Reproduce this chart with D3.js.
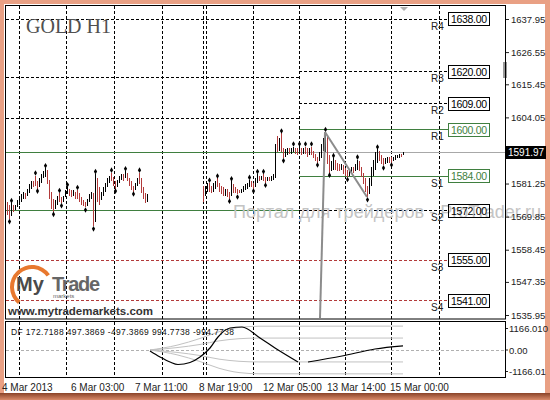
<!DOCTYPE html>
<html>
<head>
<meta charset="utf-8">
<script src="https://cdn.jsdelivr.net/npm/d3@7"></script>
<style>
  body { margin: 0; background: #fff; }
</style>
</head>
<body>
<div id="chart"></div>
<script>
const svgWidth = 550, svgHeight = 400;

// H1 bars: [high, low, direction]  u = up (black), d = down (red)
const firstBarsStart = 0;
const firstBars = [
  [1575,1570.5,'d'],[1574,1569,'d'],[1574.5,1570,'u'],[1574,1571.5,'d'],[1574,1572,'u'],
  [1575.5,1573,'u'],[1577,1574,'u'],[1577.5,1575,'u'],[1578.5,1576,'u'],[1578,1576,'d'],
  [1579.5,1577,'u'],[1581,1578,'u'],[1582,1579.5,'u'],[1582,1580,'d'],[1584,1580.5,'d'],
  [1582,1579.5,'d'],[1583,1580,'u'],[1584.5,1581.5,'u'],[1585.5,1583,'u'],[1586.5,1583.5,'u'],
  [1586,1581,'d'],[1582.5,1576,'d'],[1578.5,1572.5,'d'],[1576,1571.5,'d'],[1575.5,1572.5,'u'],
  [1577,1574,'u'],[1578,1575,'d'],[1576.5,1574.5,'d'],[1577,1575,'u'],[1579,1576.5,'u'],
  [1580,1577.5,'u'],[1579.5,1577,'d'],[1579,1576.5,'d'],[1579,1577,'u'],[1578.5,1576,'d'],
  [1579,1576,'d'],[1578,1575,'d'],[1576.5,1574,'d'],[1575.5,1573.5,'d'],[1575,1573,'d'],
  [1576,1573.5,'u'],[1577.5,1575,'u'],[1578.5,1576,'u'],[1578,1566.5,'d'],[1584.5,1568,'u'],
  [1583,1575,'d'],[1580,1574,'d'],[1578.5,1575.5,'u'],[1580,1577,'u'],[1581.5,1578.5,'u'],
  [1583,1580,'u'],[1584,1581.5,'u'],[1585,1582,'d'],[1583.5,1580.5,'d'],[1582,1579.5,'d'],
  [1582.5,1580,'u'],[1584,1581.5,'u'],[1584.5,1582.5,'u'],[1584.5,1582,'d'],[1585.5,1583,'u'],
  [1585,1582,'d'],[1583,1580.5,'d'],[1582,1579,'d'],[1580.5,1578.5,'d'],[1581.5,1579,'u'],
  [1583,1580.5,'u'],[1585,1581,'d'],[1583,1578,'d'],[1580,1576,'d'],[1578,1574.5,'d'],
  [1577.5,1575,'u']
];
const secondBarsStart = 98;
const secondBars = [
  [1580.5,1575,'d'],[1580.5,1577,'u'],[1581.5,1578.5,'u'],[1581.5,1578.5,'d'],[1580.5,1578,'d'],
  [1581.5,1578.5,'u'],[1582,1579.5,'u'],[1583,1580,'d'],[1581.5,1578.5,'d'],[1580.5,1577.5,'d'],
  [1580,1577,'d'],[1579.5,1577,'u'],[1579.5,1576.5,'d'],[1578.5,1576,'d'],[1582,1577,'u'],
  [1581,1578,'d'],[1580,1578,'d'],[1579.5,1577.5,'d'],[1579,1578,'d'],[1579.5,1578,'u'],
  [1580.5,1578.5,'u'],[1581,1579,'u'],[1581.5,1579.5,'u'],[1582.5,1580,'u'],[1582,1580,'d'],
  [1581.5,1579.5,'d'],[1583,1580,'u'],[1584.5,1581.5,'u'],[1584,1582,'d'],[1584,1582.5,'u'],
  [1584.5,1582,'d'],[1583.5,1581.5,'d'],[1583.5,1582,'u'],[1583.5,1582,'d'],[1584,1582,'u'],
  [1584.5,1582.5,'u'],[1595,1583,'u'],[1597.5,1592,'d'],[1597,1592.5,'u'],[1598.5,1592,'d'],
  [1593.5,1590,'d'],[1593,1590.5,'u'],[1593.5,1591,'u'],[1593.5,1591.5,'d'],[1593.5,1591.5,'u'],
  [1594,1592,'u'],[1593.5,1591.5,'d'],[1593.5,1591,'d'],[1594,1591.5,'u'],[1593.5,1591,'d'],
  [1593.5,1591.5,'u'],[1594,1591.5,'d'],[1593.5,1590.5,'d'],[1593.5,1591,'u'],[1594,1591,'d'],
  [1592.5,1590,'d'],[1591.5,1589,'d'],[1590.5,1588.5,'d'],[1592,1589,'u'],[1595,1590,'u'],
  [1597,1592.5,'u'],[1599,1592,'u'],[1598,1588,'d'],[1591,1585,'d'],[1589,1585.5,'u'],
  [1590,1586,'u'],[1589.5,1586,'d'],[1588.5,1585.5,'d'],[1588,1585.5,'d'],[1588,1586,'u'],
  [1587.5,1584.5,'d'],[1586.5,1584,'d'],[1586,1583.5,'d'],[1586,1584,'u'],[1587,1584.5,'u'],
  [1587,1585,'d'],[1588,1585.5,'u'],[1589.5,1586,'u'],[1589,1585.5,'d'],[1587,1583.5,'d'],
  [1585,1581,'d'],[1583,1578.5,'d'],[1580.5,1576.5,'d'],[1583,1577.5,'u'],[1587,1580.5,'u'],
  [1589.5,1584,'u'],[1592,1586,'u'],[1593,1588.5,'u'],[1592.5,1589,'d'],[1591,1588,'d'],
  [1590,1587.5,'d'],[1590,1588,'u'],[1590.5,1588.5,'u'],[1590.5,1588.5,'d'],[1590.5,1588.5,'d'],
  [1590.5,1589,'u'],[1591,1589.5,'u'],[1591,1590,'u'],[1591.5,1590,'u'],[1591.5,1590.5,'d'],
  [1592,1591,'u']
];

// fractal bars (bar numbers)
const fractalsUp = [2, 14, 19, 26, 30, 35, 44, 52, 59, 66,
  101, 105, 112, 121, 125, 128, 137, 143, 146, 149, 152, 159, 163, 175, 185];
const fractalsDown = [1, 15, 23, 27, 39, 43, 54, 63,
  111, 115, 123, 129, 138, 155, 161, 170, 180, 188, 192];

const priceTicks = [1637.95, 1626.55, 1615.45, 1604.05, 1592.65, 1581.25, 1569.85, 1558.45, 1547.35, 1535.95];
const lastPrice = 1591.97;

// pivot levels of this week (labelled) and the previous one
const pivotNames = ['R4', 'R3', 'R2', 'R1', 'S1', 'S2', 'S3', 'S4'];
const pivotValues = [1638, 1620, 1609, 1600, 1584, 1572, 1555, 1541];
const pivotKinds = ['dash', 'dash', 'dash', 'green', 'green', 'dash', 'red', 'red'];
const prevPivotValues = [1638, 1618, 1604, 1592, 1572, 1555, 1541];
const prevPivotKinds = ['dash', 'dash', 'dash', 'green', 'green', 'red', 'red'];
const pivotSwitchBar = 146;

const dayGridBars = [6, 29.5, 53.5, 77.5, 98, 99.5, 123, 146, 169, 192, 216];
const dateLabels = ['4 Mar 2013', '6 Mar 03:00', '7 Mar 11:00', '8 Mar 19:00', '12 Mar 05:00', '13 Mar 14:00', '15 Mar 00:00'];
const dateLabelBars = [-2.5, 32, 64, 96, 128, 160, 191.5];

const trendLines = [
  [[159, 1599], [180, 1576.6]],
  [[159, 1599], [156.5, 1534.9]]
];

// DF indicator
const dfValues = ['172.7188', '497.3869', '-497.3869', '994.7738', '-994.7738'];
const dfMax = 1166.01;
const dfMainA = [[71.5,-42],[76.5,-291],[81.5,-500],[85.5,-604],[91.5,-520],[96.5,-291],[101.5,83],
  [105.5,541],[111.5,916],[117.5,958],[126.5,500],[134,83],[145.5,-500]];
const dfMainB = [[150.5,-500],[167.5,-250],[184,42],[198,173]];
const dfUpperOuter = [[71.5,0],[85,200],[96.5,480],[106,760],[116,940],[126,990],[198,994.77]];
const dfUpperInner = [[71.5,0],[85,100],[96.5,230],[106,380],[116,470],[126,497],[198,497.39]];
const dfLowerInner = [[71.5,0],[85,-100],[96.5,-230],[106,-380],[116,-470],[126,-497],[198,-497.39]];
const dfLowerOuter = [[71.5,0],[85,-200],[96.5,-480],[106,-760],[116,-940],[126,-990],[198,-994.77]];

const chart = { left: 6, right: 505.5, top: 6, bottom: 319 };
const panel = { top: 322, bottom: 378 };

const svg = d3.select('#chart')
  .append('svg')
  .attr('width', svgWidth)
  .attr('height', svgHeight)
  .attr('font-family', '"Liberation Sans", Arial, sans-serif');

const x = d3.scaleLinear().domain([0, 249]).range([7, 505]);
const y = d3.scaleLinear().domain([1535.95, 1637.95]).range([315, 19]);
const yDf = d3.scaleLinear().domain([-dfMax, dfMax]).range([panel.bottom, panel.top]);

const green = '#3f7f3f', red = '#b23a3a';

// frame
const defs = svg.append('defs');
const grad = defs.append('linearGradient').attr('id', 'bottomShade').attr('x1', 0).attr('y1', 0).attr('x2', 0).attr('y2', 1);
grad.append('stop').attr('offset', '0%').attr('stop-color', '#8a4328');
grad.append('stop').attr('offset', '100%').attr('stop-color', '#d98a6a');
defs.append('clipPath').attr('id', 'plotClip')
  .append('rect')
  .attr('x', chart.left).attr('y', chart.top)
  .attr('width', chart.right - chart.left).attr('height', chart.bottom - chart.top);

svg.append('rect').attr('width', svgWidth).attr('height', svgHeight).attr('fill', '#e9a084');
svg.append('rect').attr('x', 0).attr('y', 393).attr('width', svgWidth).attr('height', 7).attr('fill', 'url(#bottomShade)');
svg.append('rect').attr('x', 4).attr('y', 4).attr('width', 541).attr('height', 389).attr('fill', '#fff');

// day separators
const grid = svg.append('g')
  .attr('stroke', '#000')
  .attr('stroke-dasharray', '3,2')
  .attr('shape-rendering', 'crispEdges');
dayGridBars.forEach(b => {
  const gx = Math.round(x(b)) + 0.5;
  grid.append('line').attr('x1', gx).attr('x2', gx).attr('y1', chart.top).attr('y2', chart.bottom);
  grid.append('line').attr('x1', gx).attr('x2', gx).attr('y1', panel.top).attr('y2', panel.bottom);
});

// pivot lines
function pivotStyle(sel, kind) {
  if (kind === 'green') sel.attr('stroke', green);
  else if (kind === 'red') sel.attr('stroke', red).attr('stroke-dasharray', '3,2');
  else sel.attr('stroke', '#000').attr('stroke-dasharray', '3,2');
}
const pivots = svg.append('g').attr('shape-rendering', 'crispEdges');

// bid line
pivots.append('line')
  .attr('x1', chart.left).attr('x2', chart.right)
  .attr('y1', Math.round(y(lastPrice)) + 0.5).attr('y2', Math.round(y(lastPrice)) + 0.5)
  .attr('stroke', '#a8a8a8');

prevPivotValues.forEach((v, i) => {
  const py = Math.round(y(v)) + 0.5;
  pivots.append('line')
    .attr('x1', chart.left).attr('x2', x(pivotSwitchBar))
    .attr('y1', py).attr('y2', py)
    .call(pivotStyle, prevPivotKinds[i]);
});

const boxX = 448, boxW = 41, boxH = 13;
pivotValues.forEach((v, i) => {
  const py = Math.round(y(v)) + 0.5;
  pivots.append('line')
    .attr('x1', x(pivotSwitchBar)).attr('x2', boxX)
    .attr('y1', py).attr('y2', py)
    .call(pivotStyle, pivotKinds[i]);
});

// watermark
svg.append('text')
  .attr('x', 233).attr('y', 218)
  .attr('font-size', 18)
  .attr('fill', '#c4c4c4')
  .attr('textLength', 308)
  .attr('lengthAdjust', 'spacingAndGlyphs')
  .text('Портал для трейдеров - ProTrader.ru');

// bars
const bars = firstBars.map((d, i) => ({ bar: firstBarsStart + i, high: d[0], low: d[1], dir: d[2] }))
  .concat(secondBars.map((d, i) => ({ bar: secondBarsStart + i, high: d[0], low: d[1], dir: d[2] })));
const barByNum = new Map(bars.map(d => [d.bar, d]));

svg.append('g')
  .attr('shape-rendering', 'crispEdges')
  .selectAll('line')
  .data(bars)
  .enter()
  .append('line')
  .attr('x1', d => Math.round(x(d.bar)) + 0.5)
  .attr('x2', d => Math.round(x(d.bar)) + 0.5)
  .attr('y1', d => y(d.high))
  .attr('y2', d => y(d.low))
  .attr('stroke', d => d.dir === 'u' ? '#000' : red);

// fractals
const diamond = d3.symbol().type(d3.symbolDiamond).size(9);
svg.append('g')
  .selectAll('path.up')
  .data(fractalsUp)
  .enter()
  .append('path')
  .attr('d', diamond)
  .attr('transform', b => `translate(${Math.round(x(b)) + 0.5},${y(barByNum.get(b).high) - 2.5})`)
  .attr('fill', '#000');
svg.append('g')
  .selectAll('path.down')
  .data(fractalsDown)
  .enter()
  .append('path')
  .attr('d', diamond)
  .attr('transform', b => `translate(${Math.round(x(b)) + 0.5},${y(barByNum.get(b).low) + 2.5})`)
  .attr('fill', '#000');

// trend lines
const priceLine = d3.line().x(d => x(d[0])).y(d => y(d[1]));
svg.append('g')
  .attr('clip-path', 'url(#plotClip)')
  .selectAll('path')
  .data(trendLines)
  .enter()
  .append('path')
  .attr('d', priceLine)
  .attr('fill', 'none')
  .attr('stroke', '#8c8c8c')
  .attr('stroke-width', 2);

// pivot boxes and names
pivotValues.forEach((v, i) => {
  const py = y(v);
  const col = pivotKinds[i] === 'green' ? green : '#000';
  svg.append('rect')
    .attr('x', boxX + 0.5).attr('y', Math.round(py - boxH / 2) + 0.5)
    .attr('width', boxW).attr('height', boxH)
    .attr('fill', pivotNames[i] === 'S2' ? 'none' : '#fff')
    .attr('stroke', col);
  svg.append('text')
    .attr('x', boxX + 3).attr('y', py + 4.5)
    .attr('font-size', 10.5)
    .attr('fill', col)
    .attr('textLength', 36)
    .text(v.toFixed(2));
  svg.append('text')
    .attr('x', 431).attr('y', py + 11)
    .attr('font-size', 10)
    .attr('fill', '#222')
    .text(pivotNames[i]);
});

// small MT4 markers
svg.append('path').attr('d', 'M400,7 L408,7 L404,11 Z').attr('fill', '#b0b0b0');
svg.append('rect').attr('x', 503).attr('y', 62).attr('width', 4).attr('height', 16).attr('fill', '#9a9a9a');

// frames
svg.append('rect')
  .attr('x', chart.left - 0.5).attr('y', chart.top - 0.5)
  .attr('width', chart.right - chart.left + 0.5).attr('height', chart.bottom - chart.top + 0.5)
  .attr('fill', 'none').attr('stroke', '#000');
svg.append('rect')
  .attr('x', chart.left - 0.5).attr('y', panel.top - 0.5)
  .attr('width', chart.right - chart.left + 0.5).attr('height', panel.bottom - panel.top)
  .attr('fill', 'none').attr('stroke', '#000');

// price axis
const axis = svg.append('g')
  .attr('transform', `translate(${chart.right + 0.5},0)`)
  .call(d3.axisRight(y).tickValues(priceTicks).tickSize(3).tickPadding(2).tickFormat(d3.format('.2f')));
axis.select('.domain').remove();
axis.selectAll('text').attr('font-size', 9.5).attr('fill', '#222').attr('font-family', '"Liberation Sans", Arial, sans-serif');
axis.selectAll('line').attr('stroke', '#222');

// last price tag
svg.append('rect')
  .attr('x', 506).attr('y', Math.round(y(lastPrice)) - 6)
  .attr('width', 40).attr('height', 13)
  .attr('fill', '#000');
svg.append('text')
  .attr('x', 508).attr('y', y(lastPrice) + 4)
  .attr('font-size', 10)
  .attr('fill', '#fff')
  .text(lastPrice.toFixed(2));

// title
svg.append('text')
  .attr('x', 26).attr('y', 33)
  .attr('font-family', '"Liberation Serif", "Times New Roman", serif')
  .attr('font-size', 20)
  .attr('fill', '#505050')
  .text('GOLD H1');

// DF panel
svg.append('line')
  .attr('x1', chart.left).attr('x2', chart.right)
  .attr('y1', Math.round(yDf(0)) + 0.5).attr('y2', Math.round(yDf(0)) + 0.5)
  .attr('stroke', '#b0b0b0').attr('stroke-dasharray', '3,2');

const dfLine = d3.line().x(d => x(d[0])).y(d => yDf(d[1])).curve(d3.curveMonotoneX);
[dfUpperOuter, dfUpperInner, dfLowerInner, dfLowerOuter].forEach(s => {
  svg.append('path').attr('d', dfLine(s)).attr('fill', 'none').attr('stroke', '#c2c2c2');
});
[dfMainA, dfMainB].forEach(s => {
  svg.append('path').attr('d', dfLine(s)).attr('fill', 'none').attr('stroke', '#000').attr('stroke-width', 1.2);
});

svg.append('text')
  .attr('x', 11).attr('y', 335)
  .attr('font-size', 8.5)
  .attr('fill', '#111')
  .attr('textLength', 223)
  .text('DF ' + dfValues.join(' '));

const dfLabels = [['1166.010', yDf(dfMax) + 10], ['0.00', yDf(0) + 3.5], ['-1166.01', yDf(-dfMax) - 3]];
dfLabels.forEach(d => {
  svg.append('text')
    .attr('x', 509).attr('y', d[1])
    .attr('font-size', 9.5)
    .attr('fill', '#222')
    .text(d[0]);
});
[yDf(dfMax) + 6.5, yDf(0), yDf(-dfMax) - 6.5].forEach(ty => {
  svg.append('line').attr('x1', 506).attr('x2', 508).attr('y1', ty).attr('y2', ty).attr('stroke', '#222');
});

// time axis labels
svg.append('g')
  .selectAll('text')
  .data(dateLabels)
  .enter()
  .append('text')
  .attr('x', (d, i) => x(dateLabelBars[i]))
  .attr('y', 391)
  .attr('font-size', 10)
  .attr('fill', '#222')
  .text(d => d);

// logo
const logo = svg.append('g');
const arc = d3.arc().innerRadius(18).outerRadius(22).startAngle(-2.45).endAngle(0.95);
logo.append('path').attr('d', arc()).attr('transform', 'translate(32,287)').attr('fill', '#e8782e');
logo.append('text')
  .attr('x', 16).attr('y', 291)
  .attr('font-size', 20).attr('font-weight', 'bold')
  .attr('fill', '#4a4a4a')
  .text('My');
logo.append('text')
  .attr('x', 52).attr('y', 291)
  .attr('font-size', 20).attr('font-weight', 'bold')
  .attr('fill', '#666')
  .attr('textLength', 48)
  .text('Trade');
logo.append('text')
  .attr('x', 53).attr('y', 298)
  .attr('font-size', 6)
  .attr('fill', '#666')
  .text('markets');
logo.append('text')
  .attr('x', 8).attr('y', 315)
  .attr('font-size', 11.5).attr('font-weight', 'bold')
  .attr('fill', '#333')
  .attr('textLength', 145)
  .text('www.mytrademarkets.com');
</script>
</body>
</html>
